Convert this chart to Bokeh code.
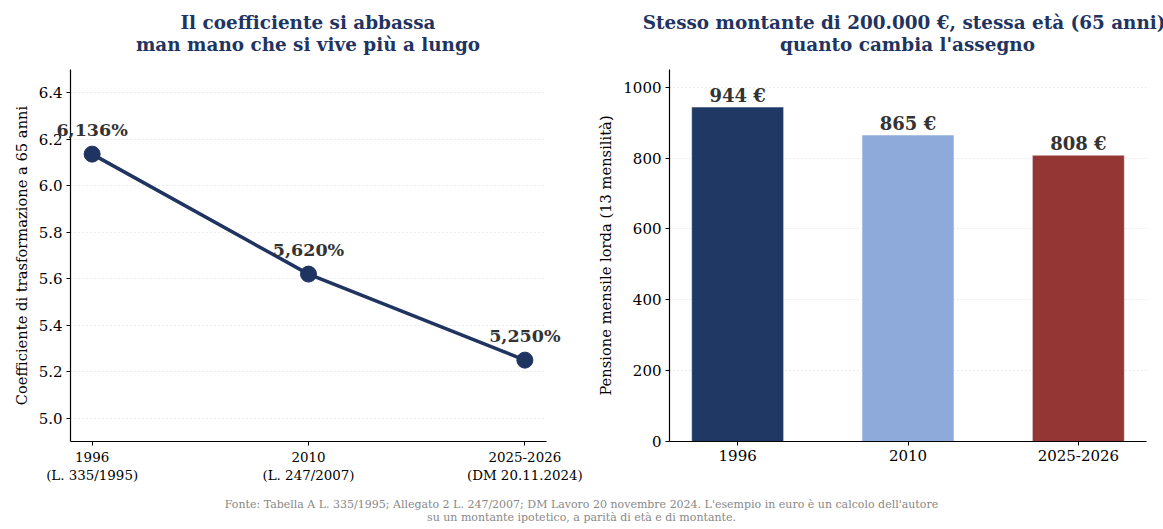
from bokeh.plotting import figure
from bokeh.models import ColumnDataSource, Label, FixedTicker, Range1d, Div, PrintfTickFormatter
from bokeh.core.properties import value
from bokeh.layouts import row, column
from bokeh.embed import file_html
from bokeh.resources import INLINE

# ---- data ----
periods = ["1996\n(L. 335/1995)", "2010\n(L. 247/2007)", "2025-2026\n(DM 20.11.2024)"]
bar_periods = ["1996", "2010", "2025-2026"]
coefficients = [6.136, 5.620, 5.250]
coef_labels = ["6,136%", "5,620%", "5,250%"]
pensions = [944, 865, 808]
pension_labels = ["944 €", "865 €", "808 €"]
bar_colors = ["#203864", "#8eaadb", "#943634"]
y_ticks_left = [5.0, 5.2, 5.4, 5.6, 5.8, 6.0, 6.2, 6.4]
y_ticks_right = [0, 200, 400, 600, 800, 1000]
title_left = ["Il coefficiente si abbassa", "man mano che si vive più a lungo"]
title_right = ["Stesso montante di 200.000 €, stessa età (65 anni):", "quanto cambia l'assegno"]

FONT = "DejaVu Serif"
NAVY = "#1f3461"
TITLE_COLOR = "#1f3461"

W1, W2 = 590, 573
B1L, B1R = 70, 44
B2L, B2R = 79, 17
TOP_H, FIG_H, FOOT_H = 69, 421, 39


def title_div(lines, width, bl, br):
    inner = "".join(
        f"<div style='display:flex;justify-content:center;white-space:nowrap;'>{t}</div>" for t in lines)
    html = (f"<div style=\"width:{width}px;height:{TOP_H}px;overflow:hidden;\">"
            f"<div style=\"margin-left:{bl}px;width:{width - bl - br}px;padding-top:12px;"
            f"font-family:'DejaVu Serif';font-weight:bold;font-size:18.4px;line-height:21.5px;"
            f"color:{TITLE_COLOR};\">{inner}</div></div>")
    return Div(text=html, width=width, height=TOP_H, margin=0)


def style(p, xtick_size, ytick_size):
    p.outline_line_color = None
    p.xgrid.grid_line_color = None
    p.ygrid.grid_line_color = "#d9d9d9"
    p.ygrid.grid_line_dash = "1 3"
    p.ygrid.grid_line_width = 1
    for ax in (p.xaxis, p.yaxis):
        ax.axis_line_color = "black"
        ax.axis_line_width = 1.2
        ax.major_tick_line_color = "black"
        ax.major_tick_line_width = 1
        ax.major_tick_out = 4
        ax.major_tick_in = 0
        ax.minor_tick_line_color = None
        ax.major_label_text_font = FONT
        ax.major_label_text_color = "black"
        ax.axis_label_text_font = FONT
        ax.axis_label_text_font_style = "normal"
        ax.axis_label_text_font_size = "14.7px"
        ax.axis_label_text_color = "black"
    p.xaxis.major_label_text_font_size = xtick_size
    p.yaxis.major_label_text_font_size = ytick_size
    p.xaxis.major_label_standoff = 4
    p.yaxis.major_label_standoff = 4
    p.yaxis.axis_label_standoff = 6


# ---- left: line chart ----
idx = list(range(len(coefficients)))
src_l = ColumnDataSource(dict(x=idx, y=coefficients, lab=coef_labels))

p1 = figure(width=W1, height=FIG_H, output_backend="svg", toolbar_location=None,
            x_range=Range1d(-0.1, 2.1), y_range=Range1d(4.9, 6.5),
            min_border_left=B1L, min_border_right=B1R, min_border_top=0, min_border_bottom=49)
p1.line("x", "y", source=src_l, line_color=NAVY, line_width=3.5)
p1.scatter("x", "y", source=src_l, size=16, fill_color=NAVY, line_color=NAVY)
p1.text("x", "y", text="lab", source=src_l, y_offset=-24, level="overlay",
        text_align="center", text_baseline="middle",
        text_font=value(FONT), text_font_size="17.5px", text_font_style="bold",
        text_color="#333333")
style(p1, "13.4px", "15px")
p1.xaxis.ticker = FixedTicker(ticks=idx)
p1.xaxis.major_label_overrides = {i: s for i, s in zip(idx, periods)}
p1.yaxis.ticker = FixedTicker(ticks=y_ticks_left)
p1.yaxis.formatter = PrintfTickFormatter(format="%.1f")
p1.yaxis.axis_label = "Coefficiente di trasformazione a 65 anni"

# ---- right: bar chart ----
src_r = ColumnDataSource(dict(x=idx, top=pensions, color=bar_colors))
p2 = figure(width=W2, height=FIG_H, output_backend="svg", toolbar_location=None,
            x_range=Range1d(-0.4, 2.4), y_range=Range1d(0, 1050),
            min_border_left=B2L, min_border_right=B2R, min_border_top=0, min_border_bottom=49)
p2.vbar(x="x", top="top", bottom=0, width=0.54, source=src_r, fill_color="color",
        line_color="white", line_alpha=0.5, line_width=1)
for xi, yi, lab in zip(idx, pensions, pension_labels):
    p2.add_layout(Label(x=xi, y=yi, text=lab, y_offset=12,
                        text_align="center", text_baseline="middle",
                        text_font=FONT, text_font_size="18px", text_font_style="bold",
                        text_color="#333333"))
style(p2, "15px", "15px")
p2.xaxis.ticker = FixedTicker(ticks=idx)
p2.xaxis.major_label_overrides = {i: s for i, s in zip(idx, bar_periods)}
p2.yaxis.ticker = FixedTicker(ticks=y_ticks_right)
p2.yaxis.axis_label = "Pensione mensile lorda (13 mensilità)"

footer = Div(text=("<div style=\"width:1163px;text-align:center;font-family:'DejaVu Serif';"
                   "font-size:11px;line-height:13px;color:#888888;padding-top:8px;\">"
                   "Fonte: Tabella A L. 335/1995; Allegato 2 L. 247/2007; DM Lavoro 20 novembre 2024. "
                   "L'esempio in euro è un calcolo dell'autore<br>"
                   "su un montante ipotetico, a parità di età e di montante.</div>"),
             width=1163, height=FOOT_H, margin=0)

layout = column(row(title_div(title_left, W1, B1L, B1R), title_div(title_right, W2, B2L, B2R), spacing=0),
                row(p1, p2, spacing=0), footer, spacing=0)
open("out.html", "w").write(file_html(layout, INLINE))
